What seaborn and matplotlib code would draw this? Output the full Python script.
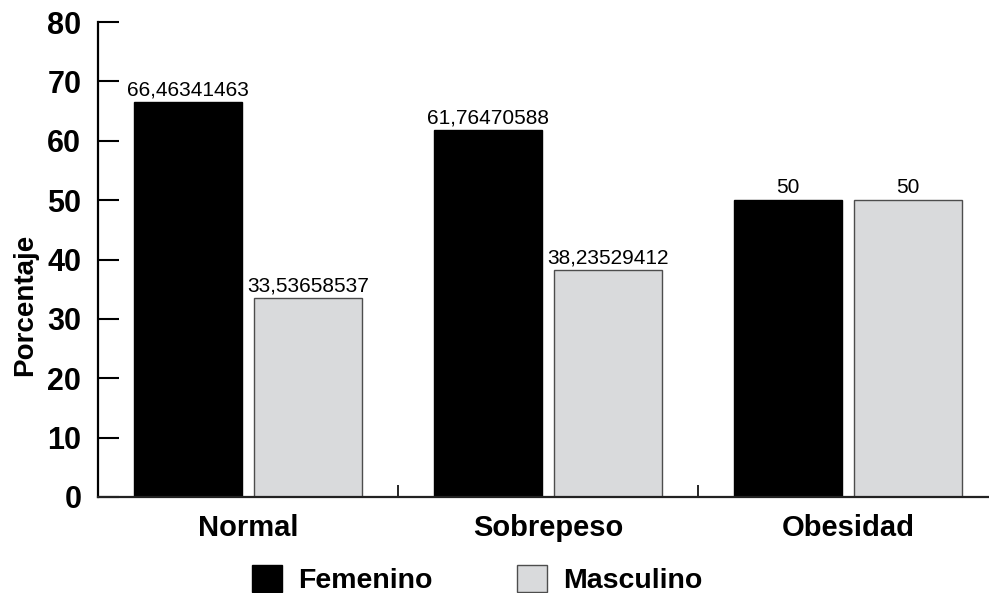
"""
Porcentaje por sexo segun estado nutricional - barras agrupadas.
"""

import matplotlib
matplotlib.use("Agg")
import matplotlib.pyplot as plt
import seaborn as sns
import pandas as pd
from matplotlib.patches import Patch

# Data
categories = ["Normal", "Sobrepeso", "Obesidad"]
femenino = [66.46341463, 61.76470588, 50]
masculino = [33.53658537, 38.23529412, 50]
series_names = ["Femenino", "Masculino"]
y_ticks = [0, 10, 20, 30, 40, 50, 60, 70, 80]

COLORS = {"Femenino": "#000000", "Masculino": "#d9dadc"}
EDGES = {"Femenino": "#000000", "Masculino": "#4d4d4d"}


def fmt_value(v):
    # comma decimal separator, integers without decimals
    if float(v).is_integer():
        return str(int(v))
    return f"{v:.8f}".replace(".", ",")


df = pd.DataFrame({
    "categoria": categories * 2,
    "sexo": [series_names[0]] * 3 + [series_names[1]] * 3,
    "valor": femenino + masculino,
})

sns.set_theme(style="white")
plt.rcParams.update({
    "font.family": ["Liberation Sans", "DejaVu Sans"],
    "text.color": "black",
    "axes.labelcolor": "black",
    "xtick.color": "black",
    "ytick.color": "black",
})

fig = plt.figure(figsize=(9.89, 5.93), dpi=100)
ax = fig.add_axes([98 / 989, 96 / 593, 900 / 989, 475 / 593])

sns.barplot(
    data=df, x="categoria", y="valor", hue="sexo",
    order=categories, hue_order=series_names,
    palette=COLORS, width=0.8, gap=0.1, ax=ax, legend=False,
)

# bar edges and value labels
for name, cont in zip(series_names, ax.containers):
    for bar in cont:
        bar.set_edgecolor(EDGES[name])
        bar.set_linewidth(1.0)
    ax.bar_label(cont, labels=[fmt_value(b.get_height()) for b in cont],
                 padding=2, fontsize=15, color="black")

ax.set_xlim(-0.5, 2.5)
ax.set_ylim(0, 80)
ax.set_yticks(y_ticks)
ax.set_yticklabels([str(t) for t in y_ticks], fontsize=22, fontweight="bold")
ax.set_xticks(range(len(categories)))
ax.set_xticklabels(categories, fontsize=21, fontweight="bold")
ax.set_xticks([0.5, 1.5], minor=True)

ax.tick_params(axis="y", left=True, direction="in", length=15, width=1.5, pad=12)
ax.tick_params(axis="x", which="major", length=0, pad=12)
ax.tick_params(axis="x", which="minor", direction="in", length=9, width=1.2, bottom=True)

ax.set_xlabel("")
ax.set_ylabel("Porcentaje", fontsize=20, fontweight="bold")
ax.yaxis.set_label_coords(-0.067, 0.404)

for side in ["top", "right"]:
    ax.spines[side].set_visible(False)
ax.spines["left"].set_linewidth(1.6)
ax.spines["left"].set_color("black")
ax.spines["bottom"].set_linewidth(1.6)
ax.spines["bottom"].set_color("#222222")

# legend below plot
handles = [Patch(facecolor=COLORS[n], edgecolor=EDGES[n], linewidth=1.0) for n in series_names]
fig.legend(
    handles, series_names, loc="upper left",
    bbox_to_anchor=(252 / 989, 1 - 565 / 593), ncol=2, frameon=False,
    prop={"size": 20.5, "weight": "bold"}, handlelength=1.06, handleheight=1.06,
    handletextpad=0.56, columnspacing=2.95, borderpad=0, borderaxespad=0,
)

fig.savefig("out.png", dpi=100)
